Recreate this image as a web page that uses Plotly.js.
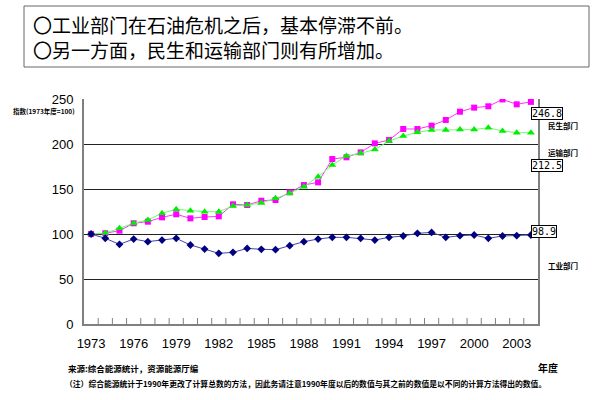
<!DOCTYPE html>
<html>
<head>
<meta charset="utf-8">
<script src="https://cdn.plot.ly/plotly-3.0.1.min.js"></script>
<style>html,body{margin:0;padding:0;background:#fff;}#chart{width:600px;height:400px;}</style>
</head>
<body>
<div id="chart"></div>
<script>
// ---- data ----
const years = [1973,1974,1975,1976,1977,1978,1979,1980,1981,1982,1983,1984,1985,1986,1987,1988,1989,1990,1991,1992,1993,1994,1995,1996,1997,1998,1999,2000,2001,2002,2003,2004];
const residential = [100,100.8,103.7,111.9,113.7,118.5,121.9,117.4,118.9,119.6,133,132.2,137,137.8,146.3,154.4,157.4,183.3,185.2,190.7,200.7,204.4,216.7,216.7,220.4,226.7,235.9,240.4,241.9,249.5,244.1,246.8];
const transport   = [100,101,106.3,112,115.6,123,127.4,125.9,124.8,124.8,131.1,132.2,134.4,139.6,145.2,152.6,163.7,176.7,186.7,189.6,194,203.3,208.9,213,215.6,215.6,216,216,218.1,214.4,212.6,212.5];
const industry    = [100,95.2,88.5,94.4,91.5,93.3,95.2,87.8,83.3,78.5,79.6,84,83,82.6,87,91.5,94.4,96.3,96.3,95.2,93.3,96.3,97.8,100.7,101.8,96.3,98.1,98.9,95.2,97.8,98.1,98.9];
const xTickVals = [1973,1976,1979,1982,1985,1988,1991,1994,1997,2000,2003];
const seriesNames = ['民生部门','运输部门','工业部门'];
const titleLines = ['〇工业部门在石油危机之后，基本停滞不前。','〇另一方面，民生和运输部门则有所增加。'];
const yTitle = '指数(1973年度=100)';
const xUnit = '年度';
const sourceText = '来源:综合能源统计，资源能源厅编';
const noteText = '（注）综合能源统计于1990年更改了计算总数的方法，因此务请注意1990年度以后的数值与其之前的数值是以不同的计算方法得出的数值。';

// ---- layout helpers (pixel -> paper) ----
const L=84, R=538, T=99, B=324;
const px = x => (x-L)/(R-L);
const py = y => (B-y)/(B-T);

const cjk = '"Noto Sans CJK SC", "Noto Sans CJK JP", sans-serif';
const lat = '"Liberation Sans", Arial, sans-serif';

const traces = [
  {x: years, y: residential, name: seriesNames[0], mode:'lines+markers',
   line:{color:'#ff33ff', width:1}, marker:{symbol:'square', size:6, color:'#ff00ff'}},
  {x: years, y: transport, name: seriesNames[1], mode:'lines+markers',
   line:{color:'#66ff66', width:1}, marker:{symbol:'triangle-up', size:7, color:'#00ee00'}},
  {x: years, y: industry, name: seriesNames[2], mode:'lines+markers',
   line:{color:'#4444aa', width:1}, marker:{symbol:'diamond', size:6, color:'#000080'}}
];

// category-boundary tick marks on the x axis (between years), drawn upward from the axis
const boundaryTicks = years.slice(0, -1).map(y => ({
  type:'line', xref:'x', yref:'paper', layer:'above',
  x0:y+0.5, x1:y+0.5, y0:0, y1:6/(B-T), line:{color:'#808080', width:1}
}));

const last = years.length-1;
const boxAnn = (val, yPix) => ({
  xref:'paper', yref:'paper', x: px(531), y: py(yPix), xanchor:'left', yanchor:'middle',
  text: val.toFixed(1), showarrow:false, bgcolor:'#fff', bordercolor:'#000', borderwidth:1, borderpad:0,
  font:{family:'"DejaVu Sans Mono", monospace', size:10, color:'#000'}
});
const lblAnn = (t, xPix, yPix) => ({
  xref:'paper', yref:'paper', x: px(xPix), y: py(yPix), xanchor:'center', yanchor:'middle',
  text: '<b>'+t+'</b>', showarrow:false, font:{family:cjk, size:7.5, color:'#000'}
});

const layout = {
  width:600, height:400,
  margin:{l:L, r:600-R, t:T, b:400-B},
  paper_bgcolor:'#fff', plot_bgcolor:'#fff',
  showlegend:false,
  xaxis:{range:[1972.5,2004.5], tickmode:'array', tickvals:xTickVals, ticks:'',
    showgrid:false, zeroline:false, showline:true, linecolor:'#808080', linewidth:2,
    tickfont:{family:lat, size:13, color:'#000'}, ticklabelstandoff:6},
  yaxis:{range:[0,250], dtick:50, ticks:'', showgrid:true, gridcolor:'#222', gridwidth:1,
    zeroline:false, showline:true, linecolor:'#808080', linewidth:2, mirror:true,
    tickfont:{family:lat, size:13, color:'#000'}, ticklabelstandoff:6},
  shapes:[
    {type:'rect', xref:'paper', yref:'paper', x0:px(24), x1:px(589), y0:py(67), y1:py(6),
     line:{color:'#666', width:1}, fillcolor:'rgba(0,0,0,0)'}
  ].concat(boundaryTicks),
  annotations:[
    {xref:'paper', yref:'paper', x:px(31), y:py(24), xanchor:'left', yanchor:'middle', showarrow:false,
     text:titleLines[0], font:{family:cjk, size:19, color:'#000'}},
    {xref:'paper', yref:'paper', x:px(31), y:py(50), xanchor:'left', yanchor:'middle', showarrow:false,
     text:titleLines[1], font:{family:cjk, size:19, color:'#000'}},
    {xref:'paper', yref:'paper', x:px(11), y:py(110.5), xanchor:'left', yanchor:'middle', showarrow:false,
     text:'<b>'+yTitle+'</b>', font:{family:cjk, size:6.5, color:'#000'}},
    boxAnn(residential[last], 113.3),
    boxAnn(transport[last], 165.5),
    boxAnn(industry[last], 231.7),
    lblAnn(seriesNames[0], 563, 125.5),
    lblAnn(seriesNames[1], 563, 152),
    lblAnn(seriesNames[2], 563, 265.5),
    {xref:'paper', yref:'paper', x:px(548), y:py(367), xanchor:'center', yanchor:'middle', showarrow:false,
     text:'<b>'+xUnit+'</b>', font:{family:cjk, size:10, color:'#000'}},
    {xref:'paper', yref:'paper', x:px(66), y:py(368), xanchor:'left', yanchor:'middle', showarrow:false,
     text:'<b>'+sourceText+'</b>', font:{family:cjk, size:8.5, color:'#000'}},
    {xref:'paper', yref:'paper', x:px(63), y:py(383), xanchor:'left', yanchor:'middle', showarrow:false,
     text:'<b>'+noteText+'</b>', font:{family:cjk, size:7.8, color:'#000'}}
  ]
};

Plotly.newPlot('chart', traces, layout, {staticPlot:true, displayModeBar:false});
</script>
</body>
</html>
